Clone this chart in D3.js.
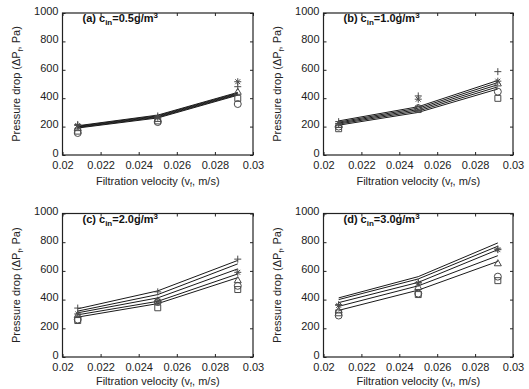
<!DOCTYPE html>
<html><head><meta charset="utf-8">
<script src="https://cdn.jsdelivr.net/npm/d3@7"></script>
<style>body{margin:0;background:#fff}svg{display:block}text{font-family:"Liberation Sans",Arial,sans-serif}</style>
</head><body><div id="chart"></div>
<script>
const velocities = [0.0208, 0.0250, 0.0292];
const xTicks = [0.02, 0.022, 0.024, 0.026, 0.028, 0.03];
const xTickLabels = ["0.02", "0.022", "0.024", "0.026", "0.028", "0.03"];
const yTicks = [0, 200, 400, 600, 800, 1000];
const yTickLabels = ["0", "200", "400", "600", "800", "1000"];
const panelLabels = ["(a)", "(b)", "(c)", "(d)"];
const concentrations = ["0.5", "1.0", "2.0", "3.0"];
const markerTypes = ["plus", "star", "triangle", "square", "circle"];

// model lines (5 per panel) at the three velocities
const linesA = [[206, 281, 441], [202, 276, 436], [198, 271, 431], [194, 266, 426], [190, 261, 421]];
const linesB = [[240, 340, 525], [232, 330, 510], [225, 320, 495], [218, 310, 480], [210, 300, 465]];
const linesC = [[336, 461, 673], [320, 435, 649], [308, 412, 614], [294, 388, 579], [278, 372, 553]];
const linesD = [[412, 560, 795], [400, 544, 772], [379, 520, 748], [353, 496, 706], [325, 466, 666]];

// measured points (plus, star, triangle, square, circle)
const pointsA = [[215, 275, 481], [208, 266, 516], [190, 255, 446], [168, 240, 399], [155, 232, 359]];
const pointsB = [[235, 416, 587], [222, 393, 520], [212, 332, 505], [185, 320, 399], [200, 330, 446]];
const pointsC = [[341, 454, 682], [300, 388, 590], [294, 395, 536], [254, 343, 470], [261, 383, 496]];
const pointsD = [[365, 520, 753], [360, 515, 748], [325, 489, 654], [308, 435, 532], [289, 442, 560]];

const panelLines = [linesA, linesB, linesC, linesD];
const panelPoints = [pointsA, pointsB, pointsC, pointsD];

const W = 529, H = 389;
const svg = d3.select("#chart").append("svg").attr("width", W).attr("height", H);

const boxes = [
  {x0: 62.5, x1: 253, y0: 13, y1: 155, xt: 30},
  {x0: 323.5, x1: 513, y0: 13, y1: 155, xt: 30},
  {x0: 62.5, x1: 253, y0: 213.5, y1: 357, xt: 28},
  {x0: 323.5, x1: 513, y0: 213.5, y1: 357, xt: 28}
];

const lineColor = "#1a1a1a", markColor = "#4a4a4a";

function markerPath(type, s) {
  const r = s / 2;
  const p = d3.path();
  if (type === "plus") { p.moveTo(-r, 0); p.lineTo(r, 0); p.moveTo(0, -r); p.lineTo(0, r); }
  else if (type === "star") { p.moveTo(-r, 0); p.lineTo(r, 0); p.moveTo(0, -r); p.lineTo(0, r);
    const q = r * 0.7; p.moveTo(-q, -q); p.lineTo(q, q); p.moveTo(-q, q); p.lineTo(q, -q); }
  else if (type === "triangle") { p.moveTo(0, -r); p.lineTo(r, r * 0.75); p.lineTo(-r, r * 0.75); p.closePath(); }
  else if (type === "square") { p.rect(-r * 0.85, -r * 0.85, r * 1.7, r * 1.7); }
  else { p.arc(0, 0, r, 0, 2 * Math.PI); p.closePath(); }
  return p.toString();
}

boxes.forEach((b, i) => {
  const x = d3.scaleLinear().domain([0.02, 0.03]).range([b.x0, b.x1]);
  const y = d3.scaleLinear().domain([0, 1000]).range([b.y1, b.y0]);
  const g = svg.append("g");

  const fx = d => xTickLabels[xTicks.indexOf(d)];
  const fy = d => yTickLabels[yTicks.indexOf(d)];
  g.append("g").attr("transform", `translate(0,${b.y1})`)
    .call(d3.axisBottom(x).tickValues(xTicks).tickFormat(fx).tickSizeInner(-3).tickSizeOuter(0).tickPadding(6))
    .call(a => { a.select(".domain").remove(); a.selectAll("text").attr("font-size", 11).attr("fill", "#222"); a.selectAll("line").attr("stroke", "#222"); });
  g.append("g").attr("transform", `translate(${b.x0},0)`)
    .call(d3.axisLeft(y).tickValues(yTicks).tickFormat(fy).tickSizeInner(-3).tickSizeOuter(0).tickPadding(4))
    .call(a => { a.select(".domain").remove(); a.selectAll("text").attr("font-size", 11).attr("fill", "#222").attr("dy", "0.12em"); a.selectAll("line").attr("stroke", "#222"); });
  g.append("g").attr("transform", `translate(0,${b.y0})`)
    .call(d3.axisTop(x).tickValues(xTicks).tickFormat("").tickSizeInner(-3).tickSizeOuter(0))
    .call(a => { a.select(".domain").remove(); a.selectAll("line").attr("stroke", "#222"); });
  g.append("g").attr("transform", `translate(${b.x1},0)`)
    .call(d3.axisRight(y).tickValues(yTicks).tickFormat("").tickSizeInner(-3).tickSizeOuter(0))
    .call(a => { a.select(".domain").remove(); a.selectAll("line").attr("stroke", "#222"); });
  g.append("rect").attr("x", b.x0).attr("y", b.y0).attr("width", b.x1 - b.x0).attr("height", b.y1 - b.y0)
    .attr("fill", "none").attr("stroke", "#222").attr("stroke-width", 1.2);

  const line = d3.line().x((d, k) => x(velocities[k])).y(d => y(d));
  panelLines[i].forEach(ser => {
    g.append("path").attr("d", line(ser)).attr("fill", "none").attr("stroke", lineColor).attr("stroke-width", 1);
  });

  panelPoints[i].forEach((ser, m) => {
    ser.forEach((v, k) => {
      g.append("path").attr("d", markerPath(markerTypes[m], 7))
        .attr("transform", `translate(${x(velocities[k])},${y(v)})`)
        .attr("fill", "none").attr("stroke", markColor).attr("stroke-width", 1);
    });
  });

  const t = g.append("text").attr("x", b.x0 + 20).attr("y", b.y0 + 9).attr("font-size", 11).attr("font-weight", "bold").attr("fill", "#111");
  t.append("tspan").text(panelLabels[i] + " c");
  t.append("tspan").attr("font-size", 8).attr("dy", 3).text("in");
  t.append("tspan").attr("dy", -3).text("=" + concentrations[i] + "g/m");
  t.append("tspan").attr("font-size", 8).attr("dy", -4).text("3");

  const xt = g.append("text").attr("x", (b.x0 + b.x1) / 2).attr("y", b.y1 + b.xt).attr("text-anchor", "middle").attr("font-size", 11).attr("fill", "#222");
  xt.append("tspan").text("Filtration velocity (v");
  xt.append("tspan").attr("font-size", 7).attr("dy", 2).text("f");
  xt.append("tspan").attr("dy", -2).text(", m/s)");

  const cy = (b.y0 + b.y1) / 2;
  const yt = g.append("text").attr("transform", `translate(${b.x0 - 43},${cy}) rotate(-90)`).attr("text-anchor", "middle").attr("font-size", 11).attr("fill", "#222");
  yt.append("tspan").text("Pressure drop (\u0394P");
  yt.append("tspan").attr("font-size", 7).attr("dy", 3).text("f");
  yt.append("tspan").attr("dy", -3).text(", Pa)");
});
</script></body></html>
